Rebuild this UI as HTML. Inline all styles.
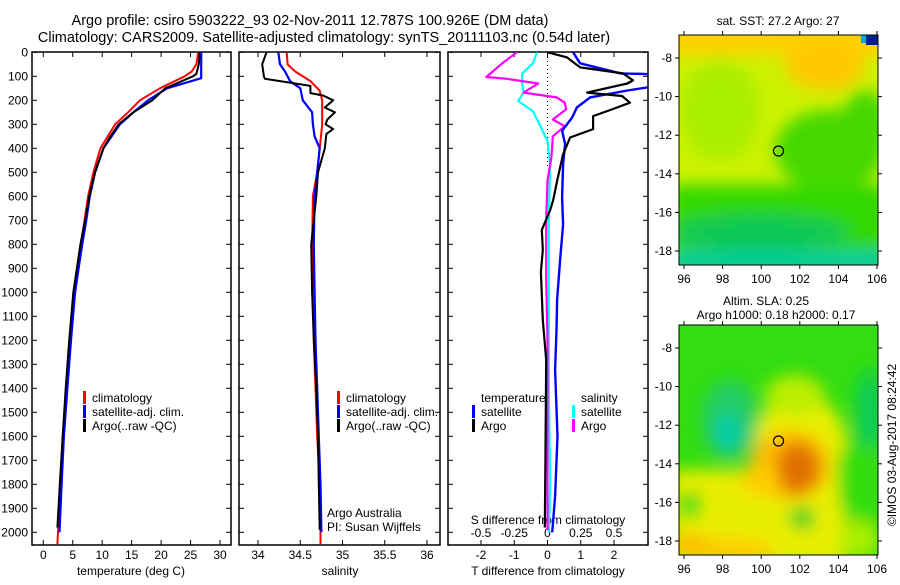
<!DOCTYPE html>
<html><head><meta charset="utf-8"><style>
html,body{margin:0;padding:0;background:#fff;}
svg text{font-family:"Liberation Sans",sans-serif;font-size:12px;fill:#000;}
</style></head><body>
<svg id="c" width="900" height="580" viewBox="0 0 900 580" xmlns="http://www.w3.org/2000/svg">
<defs>
<filter id="bl" x="-20%" y="-20%" width="140%" height="140%"><feGaussianBlur stdDeviation="8"/></filter>
<clipPath id="m1"><rect x="679" y="35" width="199" height="230"/></clipPath>
<clipPath id="m2"><rect x="679" y="325" width="199" height="230"/></clipPath>
<clipPath id="p3"><rect x="448" y="52" width="200" height="493"/></clipPath>
</defs>
<text x="310" y="25" text-anchor="middle" style="font-size:14.5px">Argo profile: csiro 5903222_93 02-Nov-2011 12.787S 100.926E (DM data)</text>
<text x="324" y="42" text-anchor="middle" style="font-size:14.5px">Climatology: CARS2009. Satellite-adjusted climatology: synTS_20111103.nc (0.54d later)</text>
<g id="g"></g>
<!-- map 1 -->
<g clip-path="url(#m1)">
<rect x="679" y="35" width="199" height="230" fill="#ccf200"/>
<g filter="url(#bl)">
<rect x="670" y="25" width="220" height="30" fill="#ffd000"/>
<ellipse cx="825" cy="65" rx="40" ry="25" fill="#ffc800"/>
<rect x="670" y="185" width="220" height="90" fill="#33d800"/>
<ellipse cx="830" cy="150" rx="55" ry="40" fill="#44d800"/>
<ellipse cx="865" cy="130" rx="25" ry="40" fill="#44d800"/>
<ellipse cx="720" cy="110" rx="40" ry="50" fill="#aaee00"/>
<rect x="670" y="250" width="220" height="25" fill="#00cc99"/>
<ellipse cx="760" cy="232" rx="90" ry="18" fill="#11c855"/>
</g>
<rect x="866" y="35" width="12" height="10" fill="#002288"/>
<rect x="861" y="35" width="5" height="8" fill="#00aacc"/>
</g>
<rect x="679" y="35" width="199" height="230" fill="none" stroke="#000"/>
<circle cx="778.5" cy="151" r="5" fill="none" stroke="#000" stroke-width="1.2"/>
<text x="778" y="25" text-anchor="middle">sat. SST: 27.2 Argo: 27</text>
<!-- map 2 -->
<g clip-path="url(#m2)">
<rect x="679" y="325" width="199" height="230" fill="#33dd11"/>
<g filter="url(#bl)">
<rect x="670" y="470" width="175" height="95" fill="#e8ee00"/>
<ellipse cx="800" cy="440" rx="45" ry="45" fill="#e8ee00"/>
<ellipse cx="795" cy="395" rx="30" ry="20" fill="#bbee00"/>
<ellipse cx="790" cy="465" rx="40" ry="35" fill="#ffbb00"/>
<ellipse cx="798" cy="468" rx="22" ry="26" fill="#e07000"/>
<ellipse cx="760" cy="480" rx="20" ry="15" fill="#ffcc00"/>
<ellipse cx="730" cy="550" rx="45" ry="12" fill="#ffcc00"/>
<ellipse cx="690" cy="545" rx="20" ry="12" fill="#ffbb00"/>
<ellipse cx="730" cy="420" rx="28" ry="40" fill="#22cc66"/>
<ellipse cx="728" cy="432" rx="13" ry="18" fill="#00ccaa"/>
<ellipse cx="690" cy="505" rx="12" ry="14" fill="#33dd11"/>
<ellipse cx="802" cy="518" rx="13" ry="11" fill="#22cc22"/>
<ellipse cx="860" cy="480" rx="22" ry="50" fill="#33dd11"/>
<ellipse cx="870" cy="410" rx="15" ry="40" fill="#11cc55"/>
<ellipse cx="860" cy="540" rx="20" ry="20" fill="#aaee00"/>
</g>
</g>
<rect x="679" y="325" width="199" height="230" fill="none" stroke="#000"/>
<circle cx="778.5" cy="441" r="5" fill="none" stroke="#000" stroke-width="1.2"/>
<text x="766" y="305" text-anchor="middle">Altim. SLA: 0.25</text>
<text x="776" y="319" text-anchor="middle">Argo h1000: 0.18 h2000: 0.17</text>
<text transform="translate(896,445) rotate(-90)" text-anchor="middle">©IMOS 03-Aug-2017 08:24:42</text>
</svg>
<script>
// ---- data ----
const depthTicks = [0,100,200,300,400,500,600,700,800,900,1000,1100,1200,1300,1400,1500,1600,1700,1800,1900,2000];
const tempTicks = [0,5,10,15,20,25,30];
const salTicks = [34,34.5,35,35.5,36];
const salTickLabels = ["34","34.5","35","35.5","36"];
const tdiffTicks = [-2,-1,0,1,2];
const sdiffTicks = [-0.5,-0.25,0,0.25,0.5];
const sdiffTickLabels = ["-0.5","-0.25","0","0.25","0.5"];
const lonTicks = [96,98,100,102,104,106];
const latTicks = [-8,-10,-12,-14,-16,-18];

const climTDepth = [0,50,80,100,150,200,250,300,400,500,600,700,800,900,1000,1200,1400,1600,1800,2000,2050];
const climT = [26.3,26.0,25.2,24.0,19.8,16.4,14.4,12.2,9.7,8.5,7.6,7.0,6.4,5.8,5.2,4.5,3.9,3.3,2.9,2.5,2.4];
const satTDepth = [0,50,108,150,200,250,300,400,500,600,700,800,900,1000,1200,1400,1600,1800,2000];
const satT = [26.8,26.8,26.8,21.0,17.8,15.3,13.0,10.2,8.8,7.9,7.3,6.6,6.0,5.4,4.7,4.1,3.5,3.1,2.75];
const argoTDepth = [0,20,50,90,100,150,200,250,300,350,400,500,600,700,800,900,1000,1200,1400,1600,1800,1980];
const argoT = [26.5,26.5,26.4,26.0,25.4,20.7,18.5,15.3,12.8,11.4,10.2,8.8,7.8,7.1,6.3,5.7,5.1,4.4,3.8,3.3,2.8,2.4];

const climSDepth = [0,50,80,120,160,200,300,400,500,600,800,1000,1200,1400,1600,1800,2000,2050];
const climS = [34.34,34.35,34.44,34.62,34.73,34.76,34.76,34.73,34.70,34.65,34.64,34.65,34.66,34.68,34.70,34.73,34.74,34.74];
const satSDepth = [0,50,80,120,150,200,250,300,350,400,500,600,800,1000,1200,1400,1600,1800,2000];
const satS = [34.24,34.26,34.32,34.38,34.50,34.53,34.64,34.65,34.67,34.73,34.70,34.67,34.66,34.67,34.68,34.70,34.72,34.74,34.75];
const argoSDepth = [0,20,50,100,110,120,140,170,180,200,230,250,280,300,320,340,400,500,600,800,1000,1200,1400,1600,1800,1990];
const argoS = [34.10,34.08,34.05,34.07,34.08,34.26,34.62,34.62,34.77,34.89,34.79,34.91,34.82,34.80,34.89,34.81,34.79,34.71,34.69,34.63,34.64,34.66,34.69,34.71,34.72,34.73];

const dTDepth = [0,46,88,92,138,159,188,230,272,327,382,466,606,717,865,1032,1157,1323,1600,1850,2000];
const satDT = [0.77,0.98,2.2,3.4,3.4,2.4,1.28,0.88,0.74,0.44,0.53,0.47,0.44,0.47,0.38,0.29,0.27,0.23,0.30,0.23,0.14];
const argoDTDepth = [0,21,63,88,117,130,168,182,210,238,266,320,355,425,536,616,657,740,823,915,1115,1282,1500,1800,1980];
const argoDT = [0,0.58,0.98,2.27,2.57,2.4,1.19,2.24,2.48,1.94,1.37,1.37,0.68,0.47,0.29,0.17,0.08,-0.17,-0.14,-0.2,-0.14,-0.04,-0.05,-0.07,-0.08];
const dSDepth = [0,46,88,130,168,203,245,300,370,466,700,1000,1400,1800,2000];
const satDS = [-0.08,-0.11,-0.19,-0.19,-0.18,-0.22,-0.11,-0.06,0,0.02,0.01,0.01,0.01,0.02,0.01];
const argoDSDepth = [0,46,103,110,130,168,188,210,238,280,308,350,434,533,700,950,1200,1600,1990];
const argoDS = [-0.23,-0.34,-0.46,-0.31,-0.07,-0.18,0.07,0.13,0.14,0.04,0.13,0.04,0.03,0,-0.01,-0.01,0,0,0];

// ---- scales ----
const Y0=52.3, YK=0.24, PB=545;
const y = d => Y0 + d*YK;
const xT = v => 43.3 + v*5.89;
const xS = v => 258 + (v-34)*84.5;
const xDT = v => 547.5 + v*33.25;
const xDS = v => 547.5 + v*133;
const lonX = v => 684 + (v-96)*19.3;
const latY1 = v => 58 + (-8 - v)*19.3;
const latY2 = v => 348 + (-8 - v)*19.3;

const NS="http://www.w3.org/2000/svg";
const g=document.getElementById('g');
function mk(tag,attrs,parent){const e=document.createElementNS(NS,tag);for(const k in attrs)e.setAttribute(k,attrs[k]);(parent||g).appendChild(e);return e;}
function txt(s,x,yy,anchor,name){const t=mk('text',{x:x,y:yy,'text-anchor':anchor||'start'});t.textContent=s;


return t;}

const panels=[[32,231],[239,440],[448,648]];
panels.forEach((p,i)=>{
  const r=mk('rect',{x:p[0],y:52,width:p[1]-p[0],height:PB-52,fill:'none',stroke:'#000','stroke-width':1.5});
  
  
  depthTicks.forEach(d=>{
    const t1=mk('line',{x1:p[0],x2:p[0]+5,y1:y(d),y2:y(d),stroke:'#000'});
    
    
    const t2=mk('line',{x1:p[1]-5,x2:p[1],y1:y(d),y2:y(d),stroke:'#000'});
    
    
  });
});
depthTicks.forEach(d=>txt(String(d),28,y(d)+4,'end','depth-tick-label'));

function xticks(vals,labels,fx,p,name){
  vals.forEach((v,i)=>{
    const a=mk('line',{x1:fx(v),x2:fx(v),y1:PB-5,y2:PB,stroke:'#000'});
    
    
    const b=mk('line',{x1:fx(v),x2:fx(v),y1:52,y2:57,stroke:'#000'});
    
    
    txt(labels[i],fx(v),559,'middle',name+'-tick-label');
  });
}
xticks(tempTicks,tempTicks.map(String),xT,0,'temperature');
xticks(salTicks,salTickLabels,xS,1,'salinity');
xticks(tdiffTicks,tdiffTicks.map(String),xDT,2,'t-diff');
sdiffTicks.forEach((v,i)=>txt(sdiffTickLabels[i],xDS(v),537,'middle','s-diff-tick-label'));
txt('temperature (deg C)',131,575,'middle','x-axis-title-temperature');
txt('salinity',340,575,'middle','x-axis-title-salinity');
txt('T difference from climatology',548,575,'middle','x-axis-title-t-diff');
txt('S difference from climatology',548,524,'middle','x-axis-title-s-diff');

function line(vals,deps,fx,color,w,name,clip){
  const pts=vals.map((v,i)=>fx(v).toFixed(1)+','+y(deps[i]).toFixed(1)).join(' ');
  const a={points:pts,fill:'none',stroke:color,'stroke-width':w,'stroke-linejoin':'round'};
  if(clip)a['clip-path']='url(#p3)';
  const l=mk('polyline',a);
  
  
}
line(climT,climTDepth,xT,'#f00',2,'climatology-temperature-line');
line(satT,satTDepth,xT,'#00f',2.2,'satellite-temperature-line');
line(argoT,argoTDepth,xT,'#000',2,'argo-temperature-line');
line(climS,climSDepth,xS,'#f00',2,'climatology-salinity-line');
line(satS,satSDepth,xS,'#00f',2.2,'satellite-salinity-line');
line(argoS,argoSDepth,xS,'#000',2,'argo-salinity-line');
const z=mk('line',{x1:xDT(0),x2:xDT(0),y1:53,y2:168,stroke:'#000','stroke-dasharray':'1,3'});


line(satDS,dSDepth,xDS,'#0ff',2.2,'satellite-salinity-diff-line',1);
line(argoDS,argoDSDepth,xDS,'#f0f',2.2,'argo-salinity-diff-line',1);
line(satDT,dTDepth,xDT,'#00f',2.4,'satellite-temperature-diff-line',1);
line(argoDT,argoDTDepth,xDT,'#000',2.2,'argo-temperature-diff-line',1);

function legend(x,yy,color,label,name){
  const m=mk('rect',{x:x,y:yy-11,width:3,height:13,fill:color});
  
  
  txt(label,x+9,yy,'start',name);
}
legend(83,402,'#f00','climatology','legend-climatology-t');
legend(83,416,'#00f','satellite-adj. clim.','legend-satellite-t');
legend(83,430,'#000','Argo(..raw -QC)','legend-argo-t');
legend(337,402,'#f00','climatology','legend-climatology-s');
legend(337,416,'#00f','satellite-adj. clim.','legend-satellite-s');
legend(337,430,'#000','Argo(..raw -QC)','legend-argo-s');
txt('temperature',481,402,'start','legend-title-temperature');
txt('salinity',581,402,'start','legend-title-salinity');
legend(472,416,'#00f','satellite','legend-satellite-tdiff');
legend(472,430,'#000','Argo','legend-argo-tdiff');
legend(572,416,'#0ff','satellite','legend-satellite-sdiff');
legend(572,430,'#f0f','Argo','legend-argo-sdiff');
txt('Argo Australia',327,517,'start','credit-argo-australia');
txt('PI: Susan Wijffels',327,531,'start','credit-pi');

// map axes
[[35,265,latY1],[325,555,latY2]].forEach((m,k)=>{
  lonTicks.forEach(v=>{
    const a=mk('line',{x1:lonX(v),x2:lonX(v),y1:m[1],y2:m[1]+4,stroke:'#000'});
    
    
    const b=mk('line',{x1:lonX(v),x2:lonX(v),y1:m[0]-4,y2:m[0],stroke:'#000'});
    
    
    txt(String(v),lonX(v),m[1]+18,'middle','lon-tick-label');
  });
  latTicks.forEach(v=>{
    const a=mk('line',{x1:675,x2:679,y1:m[2](v),y2:m[2](v),stroke:'#000'});
    
    
    const b=mk('line',{x1:878,x2:882,y1:m[2](v),y2:m[2](v),stroke:'#000'});
    
    
    txt(String(v),672,m[2](v)+4,'end','lat-tick-label');
  });
});
</script>
</body></html>
